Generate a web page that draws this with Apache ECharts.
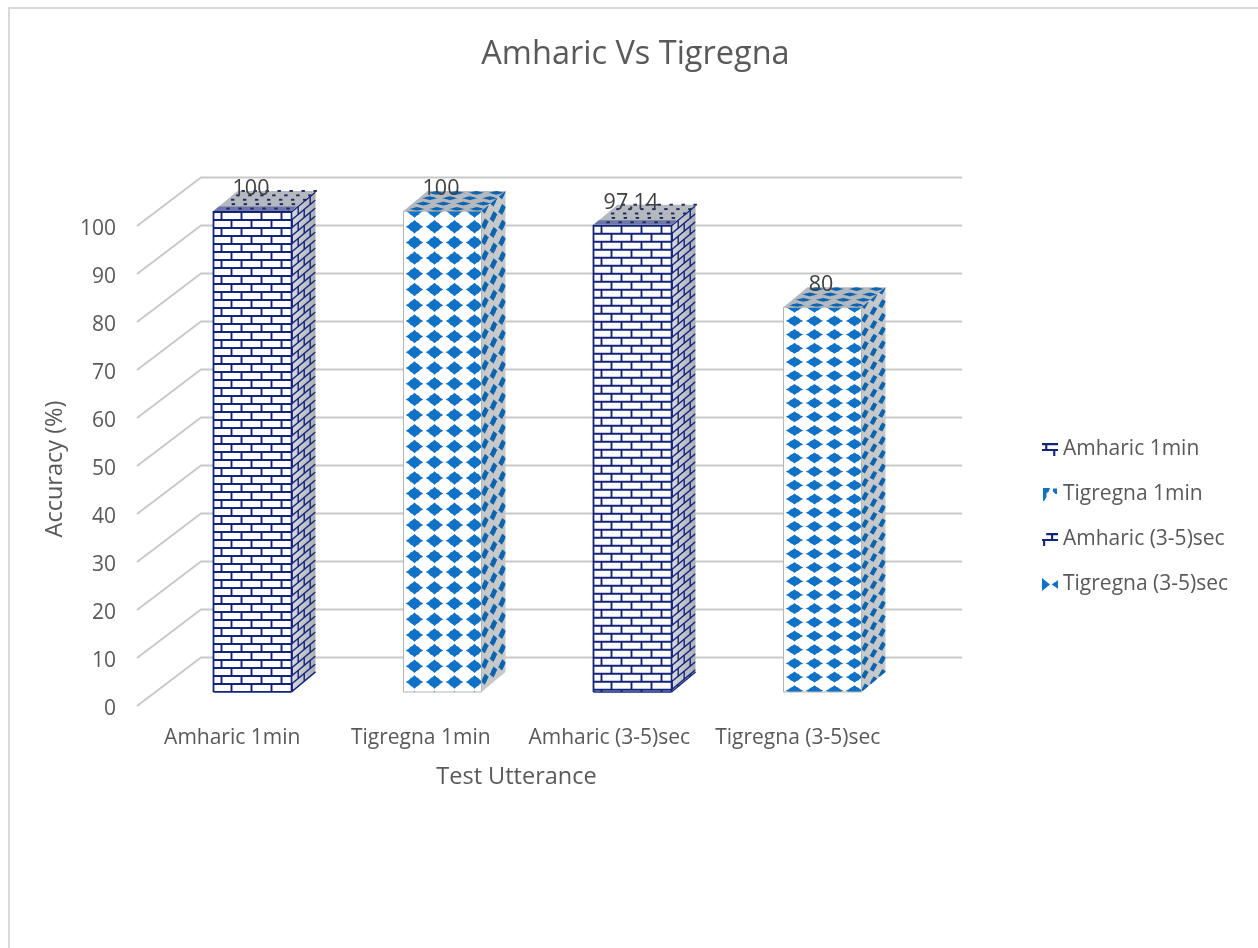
<!DOCTYPE html>
<html>
<head>
<meta charset="utf-8">
<title>Amharic Vs Tigregna</title>
<script src="https://cdn.jsdelivr.net/npm/echarts@6/dist/echarts.min.js"></script>
<style>
  html, body { margin: 0; padding: 0; background: #fff; }
  #chart { width: 1258px; height: 948px; }
</style>
</head>
<body>
<div id="chart"></div>
<script>
// Chart data
const categories = ['Amharic 1min', 'Tigregna 1min', 'Amharic (3-5)sec', 'Tigregna (3-5)sec'];
const accuracy = [100, 100, 97.14, 80];
const gridValues = [0, 10, 20, 30, 40, 50, 60, 70, 80, 90, 100];

// Text and colours
const FONT = '"Open Sans", sans-serif';
const TEXT = '#595959';
const NAVY = '#14237a';
const BLUE = '#0f72c6';
const SIDE_BLUE = '#0d64ae';
const WALL = '#c9c9c9';

// Extruded look of the column and of the chart walls
const DEPTH_X = 24, DEPTH_Y = 20;
const WALL_X = 64, WALL_Y = 48.5;
const WALL_LEFT_PAD = 1, WALL_RIGHT_PAD = 7, WALL_RAISE = 3;
const BAR_WIDTH = 78;

// Texture of each column: bricks for Amharic, diamonds for Tigregna
const textures = [
  { kind: 'brick' },
  { kind: 'diamond', pitch: 15.7, w: 17.5, h: 13.5 },
  { kind: 'brick' },
  { kind: 'diamond', pitch: 13.7, w: 17.5, h: 11 }
];

const legendIcons = [
  'path://M0 0h15v2H0z M3 2h2v4H3z M0 5.5h15v2H0z M10.5 7.5h2v4.5h-2z',
  'path://M0 0h7L5.5 4 3.5 5v4L1 13H0z M10 0.5H14V6H12.5L10 3.5z',
  'path://M4 0h11v2H4z M8.5 2h2v3.5h-2z M0 5.5h15v2H0z M1 7.5h2v4.5H1z',
  'path://M0 0L7.5 6L0 12z M15 2L9 6L15 10z'
];

// A rounded diamond with softly notched sides, centred on 0,0 and one unit across
const DIAMOND = [
  [-1, 0], [-.66, -.26], [-.46, -.56], [-.24, -.7], [0, -1], [.24, -.7], [.46, -.56], [.66, -.26],
  [1, 0], [.66, .26], [.46, .56], [.24, .7], [0, 1], [-.24, .7], [-.46, .56], [-.66, .26]
];

function line(p, q, stroke, lineWidth) {
  return {
    type: 'line',
    shape: { x1: p[0], y1: p[1], x2: q[0], y2: q[1] },
    style: { stroke, lineWidth, fill: null }
  };
}
function polygon(points, fill, stroke, lineWidth) {
  return { type: 'polygon', shape: { points }, style: { fill, stroke: stroke || null, lineWidth: lineWidth || 0 } };
}
function clippedGroup(outline, children) {
  return { type: 'group', clipPath: { type: 'polygon', shape: { points: outline } }, children };
}

// One extruded column with the label of its value
function renderColumn(params, api) {
  const idx = api.value(0);
  const value = api.value(1);
  const top = api.coord([idx, value]);
  const base = api.coord([idx, 0]);
  const left = top[0] - BAR_WIDTH / 2;
  const right = left + BAR_WIDTH;
  const yTop = top[1];
  const yBot = base[1];

  const front = (u, d) => [left + u, yTop + d];
  const side = (s, d) => [right + s * DEPTH_X, yTop + d - s * DEPTH_Y];
  const lid = (u, s) => [left + u + s * DEPTH_X, yTop - s * DEPTH_Y];

  const frontOutline = [[left, yTop], [right, yTop], [right, yBot], [left, yBot]];
  const sideOutline = [[right, yTop], side(1, 0), side(1, yBot - yTop), [right, yBot]];
  const lidOutline = [[left, yTop], [right, yTop], lid(BAR_WIDTH, 1), lid(0, 1)];
  const height = yBot - yTop;
  const texture = textures[idx];

  const children = [];
  const sideFill = {
    type: 'linear', x: 0, y: 0, x2: 1, y2: 0,
    colorStops: [{ offset: 0, color: '#d8dade' }, { offset: 1, color: '#a9aeb6' }]
  };
  children.push(polygon(frontOutline, '#ffffff'));
  children.push(polygon(sideOutline, texture.kind === 'brick' ? sideFill : '#c6c8ca'));
  children.push(polygon(lidOutline, '#b4b9c0'));

  if (texture.kind === 'brick') {
    const frontMarks = [];
    const sideMarks = [];
    for (let row = 0; row * 8 + 1 <= height; row++) {
      const d = row * 8 + 1;
      frontMarks.push(line(front(0, d), front(BAR_WIDTH, d), NAVY, 1.9));
      sideMarks.push(line(side(0, d), side(1, d), NAVY, 1.5));
      const offset = row % 2 === 0 ? 8 : 18;
      for (let u = offset; u < BAR_WIDTH; u += 20) {
        frontMarks.push(line(front(u, d), front(u, d + 8), NAVY, 1.9));
      }
      const sideStops = row % 2 === 0 ? [0.28, 0.78] : [0.03, 0.53];
      sideStops.forEach(function (s) {
        sideMarks.push(line(side(s, d), side(s, d + 8), NAVY, 1.4));
      });
    }
    children.push(clippedGroup(frontOutline, frontMarks));
    children.push(clippedGroup(sideOutline, sideMarks));
    children.push(line([left, yTop], [left, yBot], NAVY, 1.8));
    children.push(line([right, yTop], [right, yBot], NAVY, 1.6));
    children.push(line([left, yBot], [right, yBot], NAVY, 1.6));
    children.push(line([right, yBot], side(1, height), NAVY, 1.4));

    // Tinted strip along the front of the lid, then rows of dark specks
    children.push(polygon([[left, yTop], [right, yTop], lid(BAR_WIDTH, 0.22), lid(0, 0.22)], '#6d76a8'));
    for (let s = 0.12; s < 1; s += 0.22) {
      for (let u = 4 + (Math.round(s * 10) % 2) * 6; u < BAR_WIDTH; u += 12) {
        const p = lid(u, s);
        children.push(polygon([[p[0], p[1] - 1], [p[0] + 3.4, p[1] - 1], [p[0] + 3.4, p[1] + 0.9], [p[0], p[1] + 0.9]], '#1c2658'));
      }
    }
  } else {
    const frontMarks = [];
    const sideMarks = [];
    const lidMarks = [];
    const shape = function (cx, cy, w, h, skew, fill) {
      return polygon(DIAMOND.map(function (p) {
        return [cx + p[0] * w / 2, cy + p[1] * h / 2 + p[0] * (skew || 0)];
      }), fill || BLUE);
    };
    for (let d = 0; d <= height + texture.pitch; d += texture.pitch) {
      for (let u = 11; u < BAR_WIDTH; u += 20) {
        const p = front(u, d);
        frontMarks.push(shape(p[0], p[1], texture.w, texture.h));
      }
      [0.14, 0.5, 0.86].forEach(function (s) {
        const p = side(s, d);
        sideMarks.push(shape(p[0], p[1], 8, texture.h * 0.85, -2.5, SIDE_BLUE));
      });
    }
    for (let s = 0.1; s < 1; s += 0.27) {
      for (let u = 11; u < BAR_WIDTH; u += 20) {
        const p = lid(u, s);
        lidMarks.push(shape(p[0], p[1], 16, 4, 0, SIDE_BLUE));
      }
    }
    children.push(clippedGroup(frontOutline, frontMarks));
    children.push(clippedGroup(sideOutline, sideMarks));
    children.push(clippedGroup(lidOutline, lidMarks));
    children.push(polygon(frontOutline, 'transparent', '#b3b3b3', 1));
  }

  children.push({
    type: 'text',
    x: top[0] - 1.5,
    y: yTop - 22,
    style: {
      text: String(value),
      font: '21.5px ' + FONT,
      fill: '#404040',
      align: 'center',
      verticalAlign: 'middle'
    }
  });
  return { type: 'group', children };
}

// One level of the chart walls: a slanted side piece and a long back piece
function renderWallLine(params, api) {
  const start = api.coord([0, api.value(1)]);
  const band = api.size([1, 0])[0];
  const x0 = start[0] - band / 2 - WALL_LEFT_PAD;
  const y0 = start[1] - WALL_RAISE;
  const corner = [x0 + WALL_X, y0 - WALL_Y];
  const end = [corner[0] + band * categories.length + WALL_RIGHT_PAD, corner[1]];
  return {
    type: 'polyline',
    shape: { points: [[x0, y0], corner, end] },
    style: { stroke: WALL, lineWidth: 2, fill: null }
  };
}

const columnSeries = categories.map(function (name, i) {
  return {
    name,
    type: 'custom',
    xAxisIndex: 1,
    yAxisIndex: 1,
    z: 3 + i,
    itemStyle: { color: i % 2 === 0 ? NAVY : BLUE },
    data: [[i, accuracy[i]]],
    renderItem: renderColumn,
    silent: true
  };
});

const chart = echarts.init(document.getElementById('chart'));
chart.setOption({
  animation: false,
  backgroundColor: '#ffffff',
  textStyle: { fontFamily: FONT },
  title: {
    text: 'Amharic Vs Tigregna',
    left: 630.5,
    top: 33,
    textAlign: 'center',
    textStyle: { fontFamily: FONT, fontSize: 32.5, fontWeight: 'normal', color: TEXT }
  },
  legend: {
    orient: 'vertical',
    left: 1037,
    top: 434,
    itemWidth: 16,
    itemHeight: 13,
    itemGap: 24,
    selectedMode: false,
    textStyle: { fontFamily: FONT, fontSize: 21, color: TEXT },
    data: categories.map(function (name, i) {
      return { name, icon: legendIcons[i], itemStyle: { color: i % 2 === 0 ? NAVY : BLUE } };
    })
  },
  grid: [
    { left: 138, width: 754, top: 229, height: 480 },
    { left: 157.5, width: 760, top: 211, height: 481 }
  ],
  xAxis: [
    {
      type: 'category',
      gridIndex: 0,
      data: categories,
      name: 'Test Utterance',
      nameLocation: 'middle',
      nameGap: 56,
      nameTextStyle: { fontFamily: FONT, fontSize: 23.5, color: TEXT, padding: [0, 0, 0, 3] },
      axisLine: { show: false },
      axisTick: { show: false },
      axisLabel: { fontFamily: FONT, fontSize: 21, color: TEXT, margin: 19, interval: 0, hideOverlap: false }
    },
    { type: 'category', gridIndex: 1, data: categories, show: false }
  ],
  yAxis: [
    {
      type: 'value',
      gridIndex: 0,
      min: 0,
      max: 100,
      interval: 10,
      name: 'Accuracy (%)',
      nameLocation: 'middle',
      nameGap: 71,
      nameTextStyle: { fontFamily: FONT, fontSize: 23.5, color: TEXT },
      axisLine: { show: false },
      axisTick: { show: false },
      splitLine: { show: false },
      axisLabel: { fontFamily: FONT, fontSize: 21, color: TEXT, margin: 22 }
    },
    { type: 'value', gridIndex: 1, min: 0, max: 100, show: false, splitLine: { show: false } }
  ],
  series: [
    {
      name: 'walls',
      type: 'custom',
      xAxisIndex: 0,
      yAxisIndex: 0,
      z: 1,
      silent: true,
      data: gridValues.map(function (v) { return [0, v]; }),
      renderItem: renderWallLine
    }
  ].concat(columnSeries),
  graphic: [
    {
      type: 'polyline',
      silent: true,
      shape: { points: [[9, 948], [9, 8], [1258, 8]] },
      style: { stroke: '#dadada', lineWidth: 2, fill: null }
    }
  ]
});
</script>
</body>
</html>
